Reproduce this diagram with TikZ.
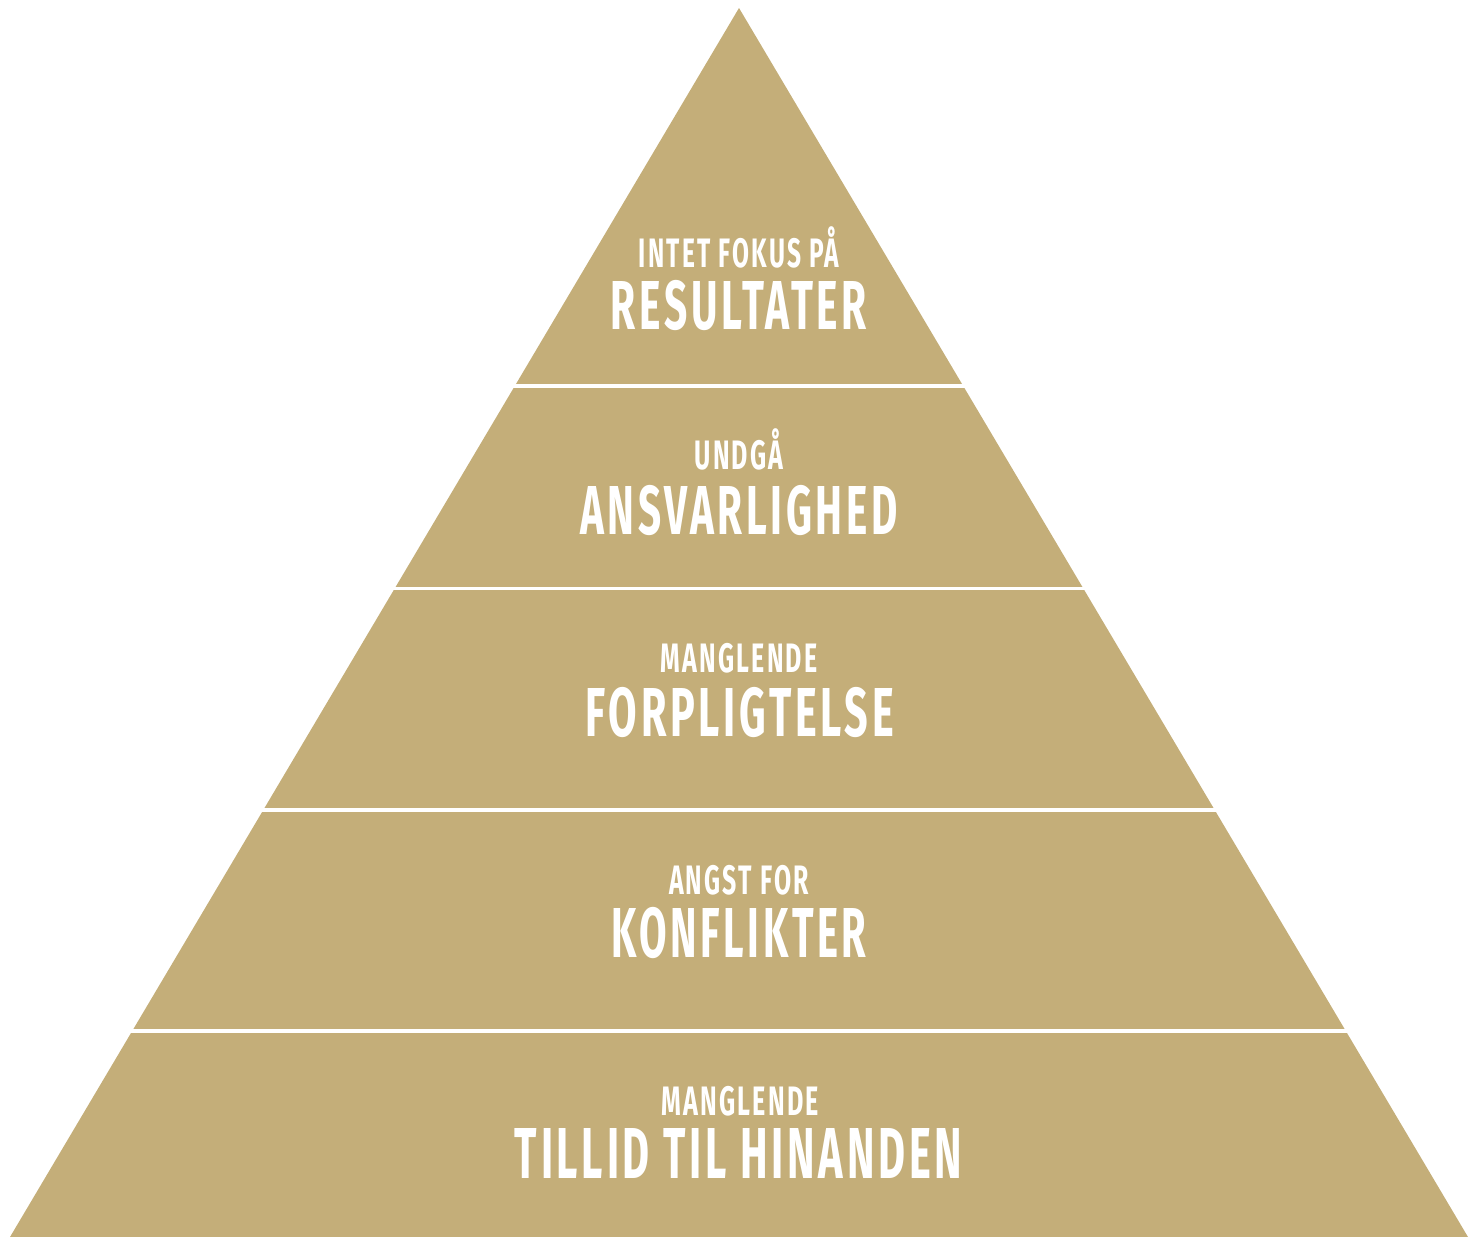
\documentclass[tikz,border=0pt]{standalone}
\usepackage{fontspec}
\setmainfont{Fira Sans}
\newfontfamily\capfont[LetterSpace=9]{Fira Sans}
\usepackage{graphicx}
\definecolor{pyramid}{RGB}{196,174,121}
% a line of capitals fitted to a given width and cap height
\newcommand{\capline}[3]{\resizebox{#1pt}{#2pt}{\vphantom{H}\smash{#3}}}
\tikzset{
  band/.style={fill=pyramid},
  lbl/.style={text=white, inner sep=0pt, anchor=base, font=\capfont\bfseries},
}
\begin{document}
\begin{tikzpicture}[x=1pt, y=-1pt]
  \useasboundingbox (0,0) rectangle (1482,1237);
  % the pyramid, cut into five bands by thin white gaps
  \begin{scope}
    \clip (739,8) -- (1468,1237) -- (10,1237) -- cycle;
    \fill[band] (0,0)      rectangle (1482,384.3);
    \fill[band] (0,387.7)  rectangle (1482,587.0);
    \fill[band] (0,590.4)  rectangle (1482,808.3);
    \fill[band] (0,811.7)  rectangle (1482,1029.3);
    \fill[band] (0,1032.7) rectangle (1482,1237);
  \end{scope}
  % labels
  \node[lbl] (l1a) at (739,267)  {\capline{200}{28.5}{INTET FOKUS PÅ}};
  \node[lbl] (l1b) at (739,329)  {\capline{256}{48}{RESULTATER}};
  \node[lbl] (l2a) at (739,469)  {\capline{89}{28.5}{UNDGÅ}};
  \node[lbl] (l2b) at (739,534)  {\capline{317}{48}{ANSVARLIGHED}};
  \node[lbl] (l3a) at (739,672.5){\capline{157}{28.5}{MANGLENDE}};
  \node[lbl] (l3b) at (740,736)  {\capline{308}{48}{FORPLIGTELSE}};
  \node[lbl] (l4a) at (739,894)  {\capline{140}{28.5}{ANGST FOR}};
  \node[lbl] (l4b) at (739,957)  {\capline{255}{49}{KONFLIKTER}};
  \node[lbl] (l5a) at (740,1115.5){\capline{158}{28.5}{MANGLENDE}};
  \node[lbl] (l5b) at (738.5,1178){\capline{447}{50}{TILLID TIL HINANDEN}};
\end{tikzpicture}
\end{document}
